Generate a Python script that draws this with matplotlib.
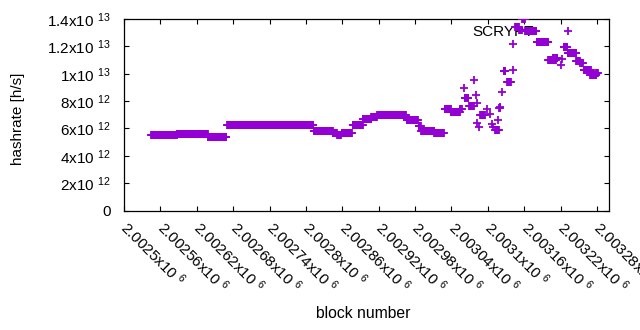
import matplotlib
matplotlib.use('Agg')
import matplotlib.pyplot as plt
import numpy as np

plt.rcParams['font.family'] = ['Liberation Sans', 'DejaVu Sans']
plt.rcParams['mathtext.fontset'] = 'custom'
plt.rcParams['mathtext.rm'] = 'Liberation Sans'
plt.rcParams['mathtext.it'] = 'Liberation Sans:italic'
plt.rcParams['mathtext.bf'] = 'Liberation Sans:bold'

# runs of constant hashrate: first block, last block, hashrate [h/s]
seg_start = [2002545, 2002587, 2002638, 2002670, 2002813, 2002844, 2002852, 2002859,
             2002877, 2002894, 2002908, 2002918, 2002966, 2002986, 2002990, 2003012,
             2003029, 2003039, 2003054, 2003060, 2003062, 2003069, 2003077, 2003080,
             2003083, 2003083, 2003086, 2003088, 2003098, 2003103, 2003107, 2003108,
             2003112, 2003117, 2003119, 2003120, 2003121, 2003123, 2003126, 2003132,
             2003141, 2003142, 2003145, 2003152, 2003157, 2003162, 2003181, 2003200,
             2003207, 2003220, 2003222, 2003225, 2003232, 2003246, 2003252, 2003258,
             2003269, 2003279]
seg_end = [2002587, 2002638, 2002669, 2002812, 2002844, 2002851, 2002858, 2002876,
           2002894, 2002908, 2002917, 2002965, 2002985, 2002990, 2003012, 2003028,
           2003039, 2003054, 2003057, 2003060, 2003068, 2003077, 2003077, 2003080,
           2003083, 2003083, 2003086, 2003095, 2003098, 2003103, 2003107, 2003108,
           2003118, 2003117, 2003119, 2003120, 2003121, 2003123, 2003129, 2003138,
           2003141, 2003142, 2003151, 2003156, 2003161, 2003180, 2003200, 2003212,
           2003215, 2003220, 2003222, 2003231, 2003246, 2003252, 2003257, 2003270,
           2003279, 2003282]
seg_rate = [5.50e12, 5.61e12, 5.35e12, 6.23e12, 5.83e12, 5.67e12, 5.55e12, 5.65e12,
            6.23e12, 6.67e12, 6.86e12, 6.96e12, 6.59e12, 6.15e12, 5.79e12, 5.70e12,
            7.40e12, 7.22e12, 7.40e12, 8.93e12, 8.20e12, 7.61e12, 9.54e12, 8.41e12,
            7.89e12, 6.42e12, 6.07e12, 6.96e12, 7.40e12, 7.03e12, 6.29e12, 6.13e12,
            5.85e12, 6.62e12, 7.47e12, 7.59e12, 7.47e12, 8.64e12, 1.020e13, 9.37e12,
            1.027e13, 1.219e13, 1.344e13, 1.319e13, 1.400e13, 1.312e13, 1.230e13, 1.100e13,
            1.113e13, 1.064e13, 1.105e13, 1.193e13, 1.149e13, 1.095e13, 1.080e13, 1.027e13,
            9.91e12, 1.003e13]

blocks = np.concatenate([np.arange(s, e + 1) for s, e in zip(seg_start, seg_end)])
rates = np.concatenate([np.full(e - s + 1, r) for s, e, r in zip(seg_start, seg_end, seg_rate)])

fig = plt.figure(figsize=(6.4, 3.3), dpi=100)
ax = fig.add_axes([124 / 640, 1 - 210.5 / 330, 485 / 640, 191.5 / 330])

ax.plot(blocks, rates, linestyle='none', marker='+', markersize=5.2,
        markeredgewidth=1.3, color='#9400d3', label='SCRYPT', zorder=3)

ax.set_xlim(2002500, 2003300)
ax.set_ylim(0, 1.4e13)

xticks = np.arange(2002500, 2003300, 60)
ax.set_xticks(xticks)
ax.set_xticklabels(['%gx10 $^{6}$' % (t / 1e6) for t in xticks])
for lab in ax.get_xticklabels():
    lab.set_rotation(-45)
    lab.set_rotation_mode('anchor')
    lab.set_horizontalalignment('left')
    lab.set_verticalalignment('center')

yticks = np.arange(0, 1.41e13, 2e12)
ylabels = ['0']
for t in yticks[1:]:
    e = int(np.floor(np.log10(t) + 1e-9))
    ylabels.append('%gx10 $^{%d}$' % (t / 10 ** e, e))
ax.set_yticks(yticks)
ax.set_yticklabels(ylabels)

ax.tick_params(direction='in', length=3.5, width=0.8, top=True, right=True,
               labelsize=11, color='black')
ax.tick_params(axis='x', pad=10)
ax.tick_params(axis='y', pad=9.5)
for sp in ax.spines.values():
    sp.set_linewidth(0.9)

ax.set_xlabel('block number', fontsize=11.3)
ax.set_ylabel('hashrate [h/s]', fontsize=11)
ax.xaxis.set_label_coords(0.494, -0.5)
ax.yaxis.set_label_coords(-0.205, 0.48)

leg = ax.legend(loc='center right', bbox_to_anchor=(583 / 640, 1 - 32 / 330),
                bbox_transform=fig.transFigure, frameon=False, markerfirst=False,
                fontsize=11, borderaxespad=0, borderpad=0, handletextpad=1.2,
                handlelength=2.0)
leg.set_zorder(1)

fig.savefig('out.png', dpi=100)
